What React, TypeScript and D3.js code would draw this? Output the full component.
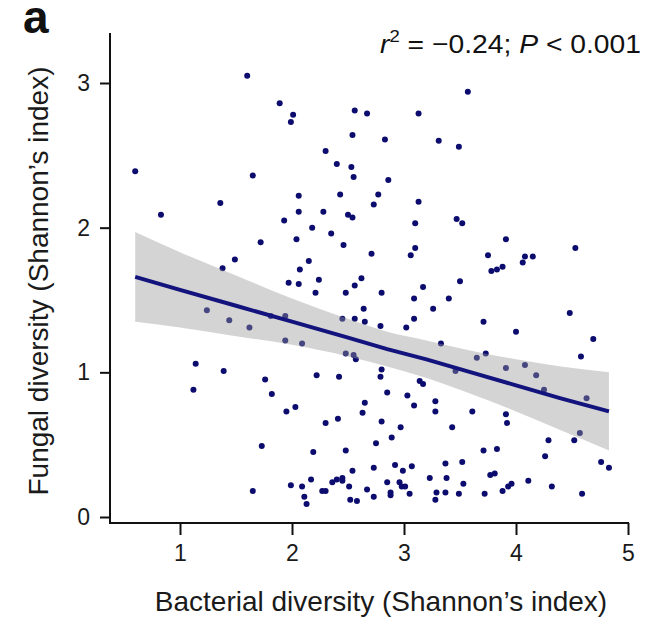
import { useEffect, useRef } from "react";
import * as d3 from "d3";

// bacterial diversity (x) and fungal diversity (y)
const bacterial = [
  1.6, 1.89, 1.99, 2.01, 0.6, 1.65, 1.36, 0.83, 1.93, 1.72, 1.49, 1.38,
  2.56, 2.67, 3.13, 2.54, 2.83, 3.31, 3.49, 2.3, 2.4, 2.53, 2.55, 2.86,
  2.06, 2.43, 2.77, 2.73, 3.13, 2.06, 2.28, 2.5, 2.54, 3.1, 3.47, 3.52,
  2.18, 2.35, 2.04, 2.46, 3.1, 3.06, 2.71, 2.15, 2.07, 2.62, 2.24, 1.97,
  3.5, 3.57, 3.91, 4.53, 3.75, 4.08, 4.15, 4.06, 3.78, 3.83, 3.88,
  1.24, 1.44, 1.62, 1.81, 1.94, 1.94, 1.14, 1.39, 1.76, 1.12, 1.82, 1.95,
  1.73, 1.65, 1.99,
  2.06, 2.56, 2.21, 2.48, 2.8, 3.17, 3.09, 3.4, 2.64, 3.26, 2.56, 2.65,
  2.45, 3.09, 2.79, 3.02, 2.09, 3.33, 2.48, 2.55, 2.57, 2.8, 2.79, 3.46,
  2.22, 2.42, 3.14, 3.17, 2.85, 3.03, 3.09, 3.28, 3.28, 2.65, 2.63, 2.03,
  2.3, 2.41, 2.8, 2.97, 2.89, 2.75, 3.43, 2.19, 2.48, 3.52, 3.37, 2.92,
  3.07, 2.73, 2.54, 2.99, 2.09, 2.17, 2.27, 2.3, 2.36, 2.4, 2.45, 2.45,
  2.51, 2.67, 2.85, 2.96, 2.98, 3.01, 3.23, 3.38, 3.53, 2.11, 2.13, 2.52,
  2.58, 2.73, 2.88, 2.88, 3.05, 3.29, 3.37, 3.49, 3.28,
  3.71, 4.0, 4.48, 4.69, 4.58, 3.65, 3.73, 3.91, 4.08, 4.18, 4.25, 4.63,
  3.61, 3.91, 3.92, 4.29, 4.52, 4.57, 3.71, 3.83, 4.26, 4.76, 4.83, 3.77,
  3.81, 4.11, 4.32, 3.72, 3.88, 3.93, 3.96, 4.59,
];
const fungal = [
  3.05, 2.86, 2.73, 2.78, 2.39, 2.36, 2.17, 2.09, 2.05, 1.9, 1.78, 1.72,
  2.81, 2.79, 2.79, 2.64, 2.61, 2.6, 2.56, 2.53, 2.44, 2.42, 2.35, 2.33,
  2.22, 2.23, 2.23, 2.16, 2.18, 2.11, 2.11, 2.09, 2.07, 2.03, 2.06, 2.03,
  2.0, 1.96, 1.92, 1.88, 1.86, 1.81, 1.82, 1.77, 1.71, 1.65, 1.64, 1.62,
  1.63, 2.94, 1.92, 1.86, 1.81, 1.8, 1.8, 1.76, 1.7, 1.71, 1.73,
  1.43, 1.36, 1.31, 1.39, 1.39, 1.22, 1.06, 1.01, 0.95, 0.88, 0.85, 0.73,
  0.49, 0.18, 0.22,
  1.61, 1.6, 1.55, 1.55, 1.55, 1.59, 1.51, 1.51, 1.44, 1.44, 1.37, 1.35,
  1.37, 1.37, 1.32, 1.31, 1.2, 1.2, 1.13, 1.12, 1.09, 1.02, 0.97, 1.01,
  0.98, 0.97, 0.94, 0.92, 0.86, 0.84, 0.77, 0.8, 0.73, 0.79, 0.72, 0.76,
  0.65, 0.68, 0.66, 0.62, 0.55, 0.51, 0.62, 0.45, 0.46, 0.38, 0.37, 0.36,
  0.35, 0.34, 0.32, 0.32, 0.21, 0.26, 0.18, 0.18, 0.24, 0.26, 0.27, 0.25,
  0.21, 0.19, 0.24, 0.24, 0.21, 0.21, 0.27, 0.27, 0.23, 0.14, 0.09, 0.12,
  0.11, 0.14, 0.17, 0.15, 0.16, 0.17, 0.17, 0.16, 0.12,
  1.35, 1.28, 1.41, 1.23, 1.11, 1.1, 1.13, 1.03, 1.05, 0.98, 0.88, 0.82,
  0.73, 0.71, 0.65, 0.53, 0.53, 0.58, 0.46, 0.47, 0.42, 0.38, 0.34, 0.29,
  0.3, 0.25, 0.21, 0.16, 0.18, 0.21, 0.23, 0.16,
];

// fitted line and its confidence band
const fitX = [0.6, 1.0, 1.5, 2.0, 2.5, 2.85, 3.2, 3.6, 4.0, 4.4, 4.83];
const fitY = [1.66, 1.57, 1.46, 1.35, 1.24, 1.16, 1.09, 1.0, 0.91, 0.82, 0.73];
const bandUpper = [1.97, 1.83, 1.67, 1.51, 1.37, 1.28, 1.22, 1.15, 1.09, 1.04, 1.0];
const bandLower = [1.35, 1.31, 1.25, 1.19, 1.11, 1.04, 0.96, 0.85, 0.73, 0.6, 0.46];

const xTicks = [1, 2, 3, 4, 5];
const yTicks = [0, 1, 2, 3];

const FONT = "'Liberation Sans', Arial, Helvetica, sans-serif";

export default function App() {
  const ref = useRef<SVGSVGElement>(null);

  useEffect(() => {
    if (!ref.current) return;
    const svg = d3.select(ref.current);
    svg.selectAll("*").remove();

    const x = d3.scaleLinear().domain([1, 5]).range([180, 628]);
    const y = d3.scaleLinear().domain([0, 3]).range([517, 83]);
    const axisY = 523;
    const axisX = 110;

    // points first, band sits on top of them (semi-transparent)
    svg
      .append("g")
      .selectAll("circle")
      .data(bacterial.map((b, i) => [b, fungal[i]]))
      .enter()
      .append("circle")
      .attr("cx", (d) => x(d[0]))
      .attr("cy", (d) => y(d[1]))
      .attr("r", 3)
      .attr("fill", "#0c0c6e");

    const band = d3
      .area<number>()
      .x((d) => x(d))
      .y0((_, i) => y(bandLower[i]))
      .y1((_, i) => y(bandUpper[i]))
      .curve(d3.curveMonotoneX);

    svg
      .append("path")
      .datum(fitX)
      .attr("d", band)
      .attr("fill", "#999999")
      .attr("fill-opacity", 0.42);

    const line = d3
      .line<number>()
      .x((d) => x(d))
      .y((_, i) => y(fitY[i]));

    svg
      .append("path")
      .datum(fitX)
      .attr("d", line)
      .attr("fill", "none")
      .attr("stroke", "#13137e")
      .attr("stroke-width", 4);

    // L-shaped frame
    svg
      .append("path")
      .attr("d", `M${axisX},33V${axisY}H${x(5) + 1}`)
      .attr("fill", "none")
      .attr("stroke", "#111")
      .attr("stroke-width", 2);

    const gx = svg
      .append("g")
      .attr("transform", `translate(0,${axisY})`)
      .call(d3.axisBottom(x).tickValues(xTicks).tickSize(12).tickPadding(10).tickFormat(d3.format("d")));
    gx.select(".domain").remove();

    const gy = svg
      .append("g")
      .attr("transform", `translate(${axisX},0)`)
      .call(d3.axisLeft(y).tickValues(yTicks).tickSize(10).tickPadding(10).tickFormat(d3.format("d")));
    gy.select(".domain").remove();

    svg.selectAll(".tick line").attr("stroke", "#111").attr("stroke-width", 2);
    svg
      .selectAll(".tick text")
      .attr("font-family", FONT)
      .attr("font-size", 23)
      .attr("fill", "#1a1a1a");

    // axis titles
    svg
      .append("text")
      .attr("x", 381)
      .attr("y", 611)
      .attr("text-anchor", "middle")
      .attr("font-family", FONT)
      .attr("font-size", 28)
      .attr("fill", "#1a1a1a")
      .text("Bacterial diversity (Shannon\u2019s index)");

    svg
      .append("text")
      .attr("transform", "translate(48,281) rotate(-90)")
      .attr("text-anchor", "middle")
      .attr("font-family", FONT)
      .attr("font-size", 28)
      .attr("fill", "#1a1a1a")
      .text("Fungal diversity (Shannon\u2019s index)");

    // panel letter
    svg
      .append("text")
      .attr("x", 23)
      .attr("y", 33)
      .attr("font-family", FONT)
      .attr("font-size", 46)
      .attr("font-weight", "bold")
      .attr("fill", "#111")
      .text("a");

    // statistics
    const stat = svg
      .append("text")
      .attr("x", 380)
      .attr("y", 53)
      .attr("textLength", 261)
      .attr("lengthAdjust", "spacingAndGlyphs")
      .attr("font-family", FONT)
      .attr("font-size", 26)
      .attr("fill", "#111");
    stat.append("tspan").attr("font-style", "italic").text("r");
    stat.append("tspan").attr("font-size", 17).attr("dy", -11).text("2");
    stat.append("tspan").attr("dy", 11).text(" = \u22120.24; ");
    stat.append("tspan").attr("font-style", "italic").text("P");
    stat.append("tspan").text(" < 0.001");
  }, []);

  return (
    <svg
      ref={ref}
      width={646}
      height={622}
      style={{ position: "absolute", left: 0, top: 0, background: "#fff" }}
    />
  );
}
